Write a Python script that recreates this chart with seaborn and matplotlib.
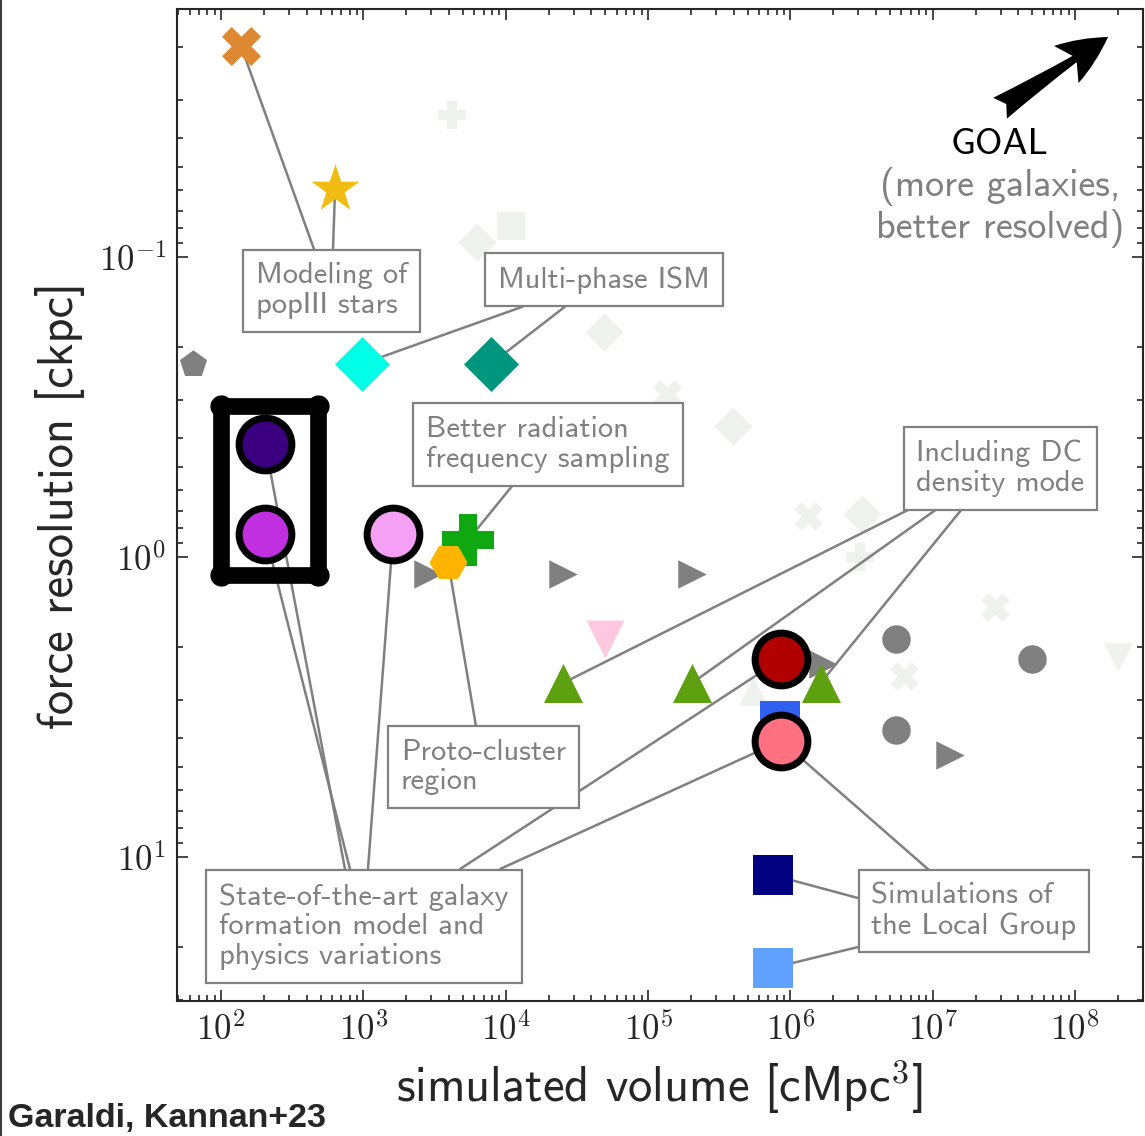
import numpy as np
import pandas as pd
import seaborn as sns
import matplotlib.pyplot as plt
from matplotlib.ticker import LogLocator, FuncFormatter, NullFormatter
from matplotlib.lines import Line2D

# --- highlighted (coloured) simulations ---
sim_names = ['popIII_x', 'popIII_star', 'ism_a', 'ism_b',
             'fid_hi', 'fid_lo', 'fid_big', 'rad_freq', 'protocluster',
             'dc_1', 'dc_2', 'dc_3', 'big_hi', 'big_mid', 'big_lo',
             'lg_hi', 'lg_lo']
sim_vol = [138, 632, 981, 7890, 204, 204, 1618, 5440, 3940,
           2.53e4, 2.04e5, 1.63e6, 8.6e5, 8.4e5, 8.6e5, 7.57e5, 7.57e5]
sim_res = [0.0198, 0.0593, 0.227, 0.227, 0.42, 0.838, 0.838, 0.878, 1.04,
           2.63, 2.63, 2.63, 2.19, 3.52, 4.1, 11.5, 23.4]

# --- other works (grey) ---
grey_vol = [63.5, 2850, 2.53e4, 2.04e5, 1.7e6, 5.53e6, 5.0e7, 5.53e6, 1.33e7]
grey_res = [0.227, 1.14, 1.14, 1.14, 2.28, 1.88, 2.19, 3.77, 4.57]
grey_kind = ['p', '>', '>', '>', '>', 'o', 'o', 'o', '>']

pink_vol = [4.99e4]
pink_res = [1.876]

# --- faded background works ---
faint_vol = [4200, 6300, 1.08e4, 4.9e4, 1.36e5, 3.96e5, 1.33e6, 3.2e6,
             3.1e6, 2.75e7, 6.3e6, 2.0e8, 5.5e5]
faint_res = [0.0335, 0.089, 0.079, 0.178, 0.286, 0.366, 0.73, 0.72,
             1.0, 1.47, 2.49, 2.15, 2.8]
faint_kind = ['P', 'D', 's', 'D', 'X', 'D', 'X', 'D', 'P', 'X', 'X', 'v', '^']

# highlight frame around the two fiducial runs
frame_vol = [100, 477]
frame_res = [0.313, 1.15]

# styles for the coloured points
sim_marker = ['X', '*', 'D', 'D', 'o', 'o', 'o', 'P', 'H',
              '^', '^', '^', 'o', 's', 'o', 's', 's']
sim_color = ['#DD8833', '#F2BD12', '#00FFE6', '#00957D',
             '#3A0080', '#C030E0', '#F4A0F4', '#10A810', '#FFB400',
             '#5FA010', '#5FA010', '#5FA010', '#B00000', '#3060F0',
             '#FF7080', '#000080', '#60A0FF']
sim_size = [790, 1325, 784, 784, 1444, 1444, 1444, 1450, 750,
            790, 790, 790, 1444, 790, 1444, 790, 790]

sns.set_style('ticks')
plt.rcParams['font.family'] = ['cmss10', 'DejaVu Sans']
plt.rcParams['mathtext.fontset'] = 'cm'
plt.rcParams['axes.unicode_minus'] = False

fig = plt.figure(figsize=(11.45, 11.36), dpi=100)
ax = fig.add_axes([177 / 1145, 1 - 1001 / 1136, 966 / 1145, 992 / 1136])
ax.set_xscale('log')
ax.set_yscale('log')

gray = '#808080'

# faint markers
for v, r, m in zip(faint_vol, faint_res, faint_kind):
    s = 375 if m == 'D' else 420
    sns.scatterplot(x=[v], y=[r], marker=m, color='#EEF1EE', s=s,
                    linewidth=0, ax=ax, zorder=1)

# grey markers
for v, r, m in zip(grey_vol, grey_res, grey_kind):
    sns.scatterplot(x=[v], y=[r], marker=m, color=gray, s=420,
                    linewidth=0, ax=ax, zorder=2)
sns.scatterplot(x=pink_vol, y=pink_res, marker='v', color='#FFC8E1', s=750,
                linewidth=0, ax=ax, zorder=2)

# coloured markers
for v, r, m, c, s in zip(sim_vol, sim_res, sim_marker, sim_color, sim_size):
    if m == 'o':
        sns.scatterplot(x=[v], y=[r], marker=m, color=c, s=s,
                        edgecolor='black', linewidth=5, ax=ax, zorder=5)
    else:
        sns.scatterplot(x=[v], y=[r], marker=m, color=c, s=s,
                        linewidth=0, ax=ax, zorder=4)

# thick frame around the fiducial pair
fx = [frame_vol[0], frame_vol[1], frame_vol[1], frame_vol[0], frame_vol[0]]
fy = [frame_res[0], frame_res[0], frame_res[1], frame_res[1], frame_res[0]]
ax.plot(fx, fy, color='black', lw=12, solid_joinstyle='round',
        solid_capstyle='round', zorder=5)
ax.plot(fx[:4], fy[:4], 'o', color='black', ms=15, zorder=5)

ax.set_xlim(49, 3.0e8)
ax.set_ylim(30.2, 0.0149)

# annotations: (text, box centre in axes fraction, [(anchor, index)])
notes = [
    ('Modeling of\npopIII stars', (0.160, 0.716),
     [((0.1418, 0.758), 0), ((0.1615, 0.758), 1)]),
    ('Multi-phase ISM', (0.442, 0.727), [((0.358, 0.700), 2), ((0.4017, 0.700), 3)]),
    ('Better radiation\nfrequency sampling', (0.384, 0.561), [((0.3468, 0.519), 7)]),
    ('Including DC\ndensity mode', (0.8525, 0.537),
     [((0.7588, 0.496), 9), ((0.7867, 0.496), 10), ((0.8126, 0.496), 11)]),
    ('Proto-cluster\nregion', (0.317, 0.236), [((0.3095, 0.277), 8)]),
    ('State-of-the-art galaxy\nformation model and\nphysics variations', (0.1936, 0.0751),
     [((0.1739, 0.133), 4), ((0.1791, 0.133), 5), ((0.1977, 0.133), 6),
      ((0.293, 0.133), 12), ((0.3344, 0.133), 14)]),
    ('Simulations of\nthe Local Group', (0.825, 0.0907),
     [((0.7785, 0.132), 14), ((0.705, 0.1038), 15), ((0.705, 0.0544), 16)]),
]
for txt, pos, links in notes:
    ax.text(pos[0], pos[1], txt, transform=ax.transAxes, ha='center', va='center',
            multialignment='left', fontsize=22, color=gray, zorder=6,
            linespacing=1.12,
            bbox=dict(boxstyle='square,pad=0.42', fc='white', ec=gray, lw=1.6))
    for anchor, i in links:
        ax.annotate('', xy=(sim_vol[i], sim_res[i]), xycoords='data',
                    xytext=anchor, textcoords='axes fraction',
                    arrowprops=dict(arrowstyle='-', color=gray, lw=1.8,
                                    shrinkA=0, shrinkB=0), zorder=3)

# goal arrow
ax.annotate('', xy=(0.9638, 0.9718), xycoords='axes fraction',
            xytext=(0.852, 0.900), textcoords='axes fraction',
            arrowprops=dict(arrowstyle='fancy,head_length=0.9,head_width=0.8,tail_width=0.45',
                            mutation_scale=40, color='black', lw=0,
                            shrinkA=0, shrinkB=0))
ax.text(0.852, 0.863, 'GOAL', transform=ax.transAxes, ha='center', va='center',
        fontsize=27, color='black')
ax.text(0.852, 0.800, '(more galaxies,\nbetter resolved)', transform=ax.transAxes,
        ha='center', va='center', fontsize=27.5, color=gray, linespacing=1.1)

# axes cosmetics
ax.xaxis.set_major_locator(LogLocator(base=10, numticks=20))
ax.xaxis.set_minor_locator(LogLocator(base=10, subs=np.arange(2, 10), numticks=20))
ax.yaxis.set_major_locator(LogLocator(base=10, numticks=20))
ax.yaxis.set_minor_locator(LogLocator(base=10, subs=np.arange(2, 10), numticks=20))
fmt = FuncFormatter(lambda v, p: r'$10^{%d}$' % int(round(np.log10(v))))
ax.xaxis.set_major_formatter(fmt)
ax.yaxis.set_major_formatter(fmt)
ax.xaxis.set_minor_formatter(NullFormatter())
ax.yaxis.set_minor_formatter(NullFormatter())
ax.tick_params(which='both', direction='in', top=True, right=True, width=1.2,
               labelsize=25, pad=8)
ax.tick_params(which='major', length=8)
ax.tick_params(which='minor', length=4)
for sp in ax.spines.values():
    sp.set_linewidth(1.5)

ax.set_xlabel(r'simulated volume [cMpc$^3$]', fontsize=35, labelpad=8)
ax.set_ylabel('force resolution [ckpc]', fontsize=35, labelpad=10)

fig.text(8 / 1145, 1 - 1127 / 1136, 'Garaldi, Kannan+23', fontsize=24.5,
         fontweight='bold', family='Liberation Sans', ha='left', va='baseline')
fig.add_artist(Line2D([0.001, 0.001], [0, 1], color='#404040', lw=1.5,
                      transform=fig.transFigure))

fig.savefig('out.png', dpi=100)
